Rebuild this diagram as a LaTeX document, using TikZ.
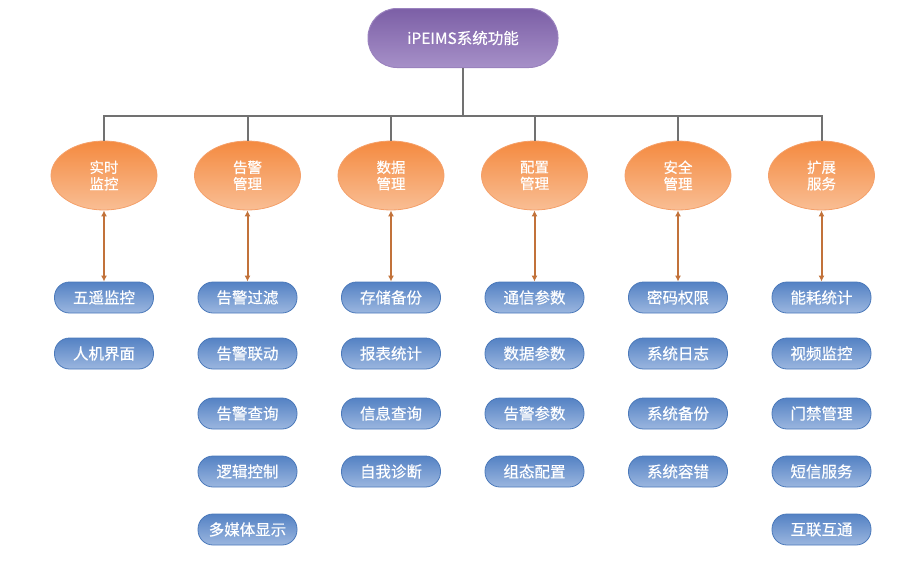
\documentclass[tikz,border=0pt]{standalone}
\usepackage{fontspec}
\setmainfont{Noto Sans CJK SC}[FakeBold=0.4]
\usetikzlibrary{shapes.geometric,arrows.meta}
\definecolor{gline}{HTML}{717171}
\definecolor{arr}{HTML}{C2723A}
\definecolor{purtop}{HTML}{7C5FA6}
\definecolor{purbot}{HTML}{A690C8}
\definecolor{purdraw}{HTML}{9A82BE}
\definecolor{ortop}{HTML}{F48A40}
\definecolor{orbot}{HTML}{F9BE94}
\definecolor{ordraw}{HTML}{F4A06A}
\definecolor{bltop}{HTML}{5482C4}
\definecolor{blbot}{HTML}{9BB6DF}
\definecolor{bldraw}{HTML}{4B79BA}
\tikzset{
  topbox/.style={rounded corners=29pt, minimum width=190pt, minimum height=59pt, inner sep=0pt,
    top color=purtop, bottom color=purbot, draw=purdraw, line width=1pt, text=white, font=\fontsize{15.5}{18}\selectfont},
  catell/.style={ellipse, minimum width=106pt, minimum height=69pt, inner sep=0pt,
    top color=ortop, bottom color=orbot, draw=ordraw, line width=0.8pt, text=white, align=center,
    font=\fontsize{14.5}{16.5}\selectfont},
  itembox/.style={rounded corners=15pt, minimum width=99pt, minimum height=31pt, inner sep=0pt,
    top color=bltop, bottom color=blbot, draw=bldraw, line width=0.8pt, text=white, font=\fontsize{15.5}{18}\selectfont},
  gl/.style={draw=gline, line width=2pt},
  biarr/.style={draw=arr, line width=2pt, {Latex[length=6pt,width=6pt]}-{Latex[length=6pt,width=6pt]}}
}
\begin{document}
\begin{tikzpicture}[x=1pt,y=-1pt]
\path[use as bounding box] (0,0) rectangle (920,560);
\node[topbox] (top) at (463,38) {iPEIMS系统功能};
\coordinate (bar) at (463,116);
\node[catell] (e1) at (104,175.5) {实时\\监控};
\node[catell] (e2) at (247.5,175.5) {告警\\管理};
\node[catell] (e3) at (391,175.5) {数据\\管理};
\node[catell] (e4) at (534.5,175.5) {配置\\管理};
\node[catell] (e5) at (678,175.5) {安全\\管理};
\node[catell] (e6) at (821.5,175.5) {扩展\\服务};
\draw[gl] (top.south) -- (bar);
\foreach \i in {1,...,6} { \draw[gl] (bar) -| (e\i.north); }
% column 1
\node[itembox] (a1) at (104,297.5) {五遥监控};
\node[itembox] (a2) at (104,353.5) {人机界面};
% column 2
\node[itembox] (b1) at (247.5,297.5) {告警过滤};
\node[itembox] (b2) at (247.5,353.5) {告警联动};
\node[itembox] (b3) at (247.5,413.5) {告警查询};
\node[itembox] (b4) at (247.5,471.5) {逻辑控制};
\node[itembox] (b5) at (247.5,529.5) {多媒体显示};
% column 3
\node[itembox] (c1) at (391,297.5) {存储备份};
\node[itembox] (c2) at (391,353.5) {报表统计};
\node[itembox] (c3) at (391,413.5) {信息查询};
\node[itembox] (c4) at (391,471.5) {自我诊断};
% column 4
\node[itembox] (d1) at (534.5,297.5) {通信参数};
\node[itembox] (d2) at (534.5,353.5) {数据参数};
\node[itembox] (d3) at (534.5,413.5) {告警参数};
\node[itembox] (d4) at (534.5,471.5) {组态配置};
% column 5
\node[itembox] (f1) at (678,297.5) {密码权限};
\node[itembox] (f2) at (678,353.5) {系统日志};
\node[itembox] (f3) at (678,413.5) {系统备份};
\node[itembox] (f4) at (678,471.5) {系统容错};
% column 6
\node[itembox] (g1) at (821.5,297.5) {能耗统计};
\node[itembox] (g2) at (821.5,353.5) {视频监控};
\node[itembox] (g3) at (821.5,413.5) {门禁管理};
\node[itembox] (g4) at (821.5,471.5) {短信服务};
\node[itembox] (g5) at (821.5,529.5) {互联互通};
% arrows
\draw[biarr] (e1.south) -- (a1.north);
\draw[biarr] (e2.south) -- (b1.north);
\draw[biarr] (e3.south) -- (c1.north);
\draw[biarr] (e4.south) -- (d1.north);
\draw[biarr] (e5.south) -- (f1.north);
\draw[biarr] (e6.south) -- (g1.north);
\end{tikzpicture}
\end{document}
